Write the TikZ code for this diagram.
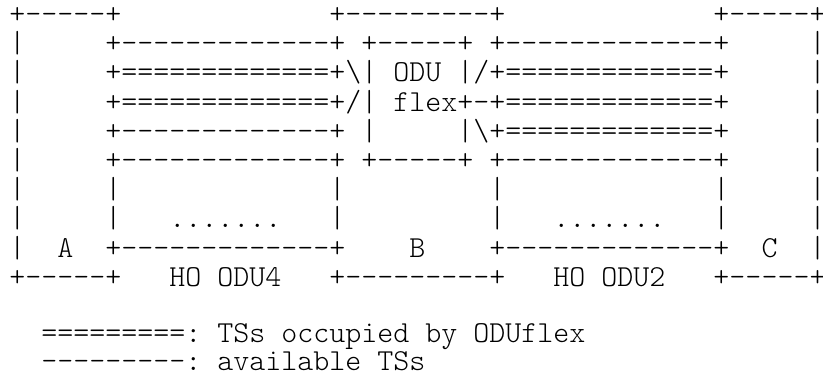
\documentclass[tikz,border=0pt]{standalone}
\usepackage{fontspec}
\setmonofont{Latin Modern Mono Light}

\begin{document}
\begin{tikzpicture}[x=1pt,y=1pt,
  artline/.style={font=\ttfamily\fontsize{15.24}{14.6}\selectfont, anchor=base west, inner sep=0pt, text depth=0pt}]
%\draw[help lines, color=gray!30] (0,0) grid (411.5,-188);
\fill [white] (0,0) rectangle (411.5,-188);
\useasboundingbox (0,0) rectangle (411.5,-188);

% the three nodes A, B, C and the two HO ODUs
\node [artline] (top) at (4.5,-11.75) {+-----+~~~~~~~~~~~~~+---------+~~~~~~~~~~~~~+-----+};
\node [artline] (ho_top) at (4.5,-26.35) {|~~~~~+-------------+~+-----+~+-------------+~~~~~|};
\node [artline] (odu_in) at (4.5,-40.95) {|~~~~~+=============+\textbackslash|~ODU~|/+=============+~~~~~|};
\node [artline] (odu_flex) at (4.5,-55.55) {|~~~~~+=============+/|~flex+-+=============+~~~~~|};
\node [artline] (odu_out) at (4.5,-70.15) {|~~~~~+-------------+~|~~~~~|\textbackslash+=============+~~~~~|};
\node [artline] (ho_mid) at (4.5,-84.75) {|~~~~~+-------------+~+-----+~+-------------+~~~~~|};
\node [artline] (ho_side) at (4.5,-99.35) {|~~~~~|~~~~~~~~~~~~~|~~~~~~~~~|~~~~~~~~~~~~~|~~~~~|};
\node [artline] (ho_dots) at (4.5,-113.95) {|~~~~~|~~~.......~~~|~~~~~~~~~|~~~.......~~~|~~~~~|};
\node [artline] (names) at (4.5,-128.55) {|~~A~~+-------------+~~~~B~~~~+-------------+~~C~~|};
\node [artline] (bottom) at (4.5,-143.15) {+-----+~~~HO~ODU4~~~+---------+~~~HO~ODU2~~~+-----+};

% legend
\node [artline] (key_flex) at (4.5,-171.2) {~~=========:~TSs~occupied~by~ODUflex};
\node [artline] (key_free) at (4.5,-185.2) {~~---------:~available~TSs};
\end{tikzpicture}
\end{document}
